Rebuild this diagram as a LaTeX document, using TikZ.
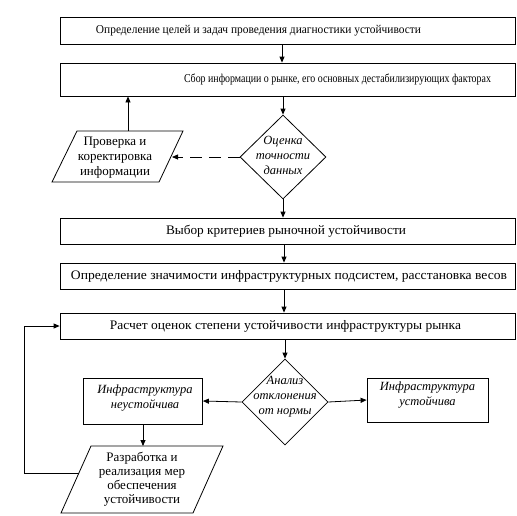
\documentclass[tikz,border=0pt]{standalone}
\usepackage{fontspec}
\setmainfont{Liberation Serif}
\usetikzlibrary{shapes.geometric,arrows.meta}
\newcommand{\fitw}[2]{\resizebox{#1}{\height}{#2}}
\begin{document}
\begin{tikzpicture}[x=1pt,y=-1pt,
 box/.style={draw, line width=0.8pt, minimum width=455pt, inner sep=0pt},
 dia/.style={draw, diamond, line width=0.8pt, inner sep=0pt, minimum width=86pt, minimum height=84pt},
 rbox/.style={draw, line width=0.8pt, inner sep=0pt},
 txt/.style={font=\fontsize{13}{15}\selectfont, inner sep=0pt},
 stxt/.style={font=\fontsize{12}{15}\selectfont, inner sep=0pt},
 itxt/.style={font=\itshape\fontsize{12.5}{15}\selectfont, inner sep=0pt, align=center},
 ptxt/.style={font=\fontsize{13}{15}\selectfont, inner sep=0pt, align=center},
 arr/.style={line width=0.8pt, -{Triangle[length=6pt,width=5pt]}},
 ln/.style={line width=0.8pt},
]
\useasboundingbox (0,0) rectangle (517,515);
% boxes
\node[box, minimum height=27pt] (b1) at (287.5,30.5) {};
\node[stxt] (t1) at (258.5,30.5) {\fitw{325pt}{Определение целей и задач проведения диагностики устойчивости}};
\node[box, minimum height=33pt] (b2) at (287.5,79.5) {};
\node[stxt] (t2) at (337.5,79.5) {\fitw{307pt}{Сбор информации о рынке, его основных дестабилизирующих факторах}};
\node[dia] (d1) at (283,157) {};
\node[itxt] (td1) at (283,155.5) {Оценка\\точности\\данных};
\draw[ln] (77,131) -- (183,131) -- (159,182) -- (52,182) -- cycle;
\coordinate (p1top) at (128,131);
\coordinate (p1right) at (172,157);
\node[ptxt] (tp1) at (115,158) {Проверка и\\коректировка\\информации};
\node[box, minimum height=26pt] (b3) at (287.5,231) {};
\node[txt] (t3) at (286,231) {\fitw{240pt}{Выбор критериев рыночной устойчивости}};
\node[box, minimum height=26pt] (b4) at (287.5,276) {};
\node[txt] (t4) at (289,276) {\fitw{436pt}{Определение значимости инфраструктурных подсистем, расстановка весов}};
\node[box, minimum height=26pt] (b5) at (287.5,326) {};
\node[txt] (t5) at (285.5,326) {\fitw{351pt}{Расчет оценок степени устойчивости инфраструктуры рынка}};
\node[dia, minimum height=86pt] (d2) at (285,402) {};
\node[itxt] (td2) at (285,397) {Анализ\\отклонения\\от нормы};
\node[rbox, minimum width=119pt, minimum height=46pt] (l) at (143,401) {};
\node[itxt] (tl) at (145,398.5) {Инфраструктура\\неустойчива};
\node[rbox, minimum width=121pt, minimum height=44pt] (r) at (427.5,400) {};
\node[itxt] (tr) at (427.5,395.5) {Инфраструктура\\устойчива};
\draw[ln] (91,446) -- (223,446) -- (193,513) -- (61,513) -- cycle;
\coordinate (p2top) at (143,446);
\coordinate (p2left) at (79,473);
\node[ptxt, font=\fontsize{13}{14}\selectfont] (tp2) at (142,479.5) {Разработка и\\реализация мер\\обеспечения\\устойчивости};
% connectors
\draw[arr] (b1.south -| 282,0) -- (b2.north -| 282,0);
\draw[arr] (b2.south -| d1.north) -- (d1.north);
\draw[arr, dash pattern=on 12pt off 7pt] (d1.west) -- (p1right);
\draw[arr] (p1top) -- (b2.south -| p1top);
\draw[arr] (d1.south) -- (b3.north -| d1.south);
\draw[arr] (b3.south -| 284,0) -- (b4.north -| 284,0);
\draw[arr] (b4.south -| 284,0) -- (b5.north -| 284,0);
\draw[arr] (b5.south -| d2.north) -- (d2.north);
\draw[arr] (d2.west) -- (l.east);
\draw[arr] (d2.east) -- (r.west);
\draw[arr] (l.south -| p2top) -- (p2top);
\draw[arr] (p2left) -- (24,473) -- (24,326) -- (b5.west);
\end{tikzpicture}
\end{document}
